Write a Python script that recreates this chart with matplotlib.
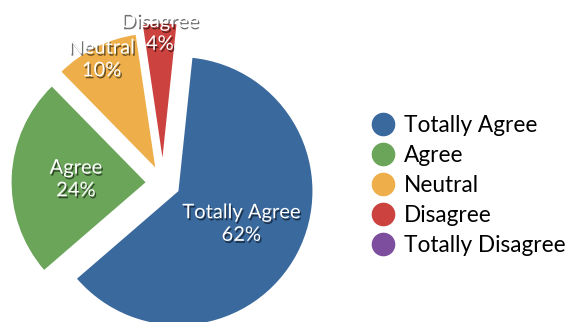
import numpy as np
import matplotlib
matplotlib.use("Agg")
import matplotlib.pyplot as plt
import matplotlib.patheffects as pe
from matplotlib.lines import Line2D

categories = ["Totally Agree", "Agree", "Neutral", "Disagree", "Totally Disagree"]
shares = [62, 24, 10, 4, 0]
colors = ["#3A699E", "#6BA55A", "#EEAF4B", "#CB423E", "#7D4E9E"]

plt.rcParams['font.family'] = ['Lato', 'DejaVu Sans']

fig = plt.figure(figsize=(5.68, 3.22), dpi=100)
ax = fig.add_axes([0, 0, 1, 1])

# only non-zero shares get a wedge
idx = [i for i, v in enumerate(shares) if v > 0]
explode = [0.13, 0.13, 0.13, 0.19]
wedges, _ = ax.pie([shares[i] for i in idx], colors=[colors[i] for i in idx],
                   startangle=84, counterclock=False, explode=explode,
                   wedgeprops=dict(linewidth=0))

# label distance from each wedge's apex
label_r = [0.53, 0.52, 0.90, 0.93]
shadow = [pe.withSimplePatchShadow(offset=(1, -1.5), shadow_rgbFace='black', alpha=0.55)]
for w, i, r in zip(wedges, idx, label_r):
    mid = np.deg2rad((w.theta1 + w.theta2) / 2)
    cx, cy = w.center
    ax.text(cx + r * np.cos(mid), cy + r * np.sin(mid),
            f"{categories[i]}\n{shares[i]}%", ha='center', va='center',
            color='white', fontsize=14.5, linespacing=1.4, path_effects=shadow)

ax.set_aspect('equal')
ax.set_xlim(-1.216, 3.022)
ax.set_ylim(-1.037, 1.366)
ax.axis('off')

handles = [Line2D([], [], marker='o', linestyle='', markersize=16, color=c) for c in colors]
fig.legend(handles, categories, loc='center left', bbox_to_anchor=(0.634, 0.425),
           frameon=False, fontsize=16.3, labelspacing=0.4, handletextpad=0.45,
           handlelength=1.0, borderpad=0)

fig.savefig("out.png", dpi=100)
